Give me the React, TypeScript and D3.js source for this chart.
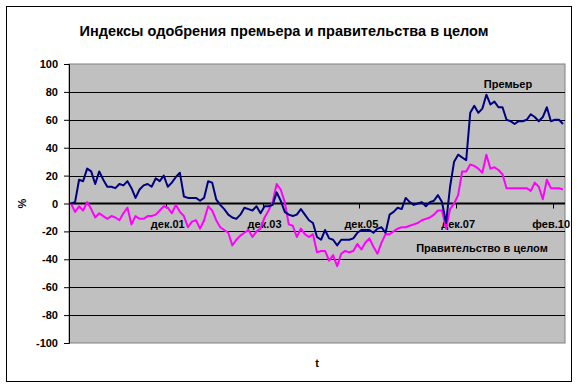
import React, { useEffect, useRef } from "react";
import * as d3 from "d3";

// monthly values, dec.99 .. feb.10
const premier = [
  0, 1, 17, 16, 25, 23, 14, 23, 17, 12,
  12, 11, 14, 13, 16, 11, 4, 10, 13, 14,
  12, 18, 16, 20, 12, 15, 19, 22, 5, 4,
  4, 4, 2, 4, 16, 15, 3, -1, -4, -8,
  -10, -11, -8, -3, -4, -5, -2, -7, -2, -2,
  -1, 8, 2, -6, -8, -9, -8, -4, -8, -12,
  -14, -24, -26, -19, -25, -26, -30, -26, -26, -26,
  -25, -21, -19, -19, -19, -21, -18, -17, -21, -8,
  -6, -3, -4, 4, 1, -1, 0, 1, -2, 1,
  2, 6, 1, -14, 12, 30, 35, 33, 31, 65,
  70, 65, 68, 78, 71, 73, 69, 69, 60, 59,
  57, 59, 59, 60, 64, 62, 59, 62, 69, 59,
  60, 60, 57,
];

const government = [
  0, -6, -2, -5, 1, -4, -10, -7, -9, -11,
  -9, -10, -12, -7, -3, -15, -9, -11, -11, -9,
  -9, -8, -5, -2, -3, -7, -1, -6, -9, -17,
  -13, -12, -18, -12, -2, -5, -12, -17, -19, -21,
  -30, -26, -23, -21, -19, -24, -20, -18, -10, -5,
  1, 14, 10, 1, -15, -16, -24, -18, -22, -24,
  -22, -35, -34, -34, -41, -37, -45, -36, -34, -35,
  -34, -29, -33, -28, -25, -31, -36, -28, -22, -22,
  -20, -18, -17, -17, -16, -15, -14, -12, -11, -10,
  -8, -5, -5, -18, -4, 0, 6, 23, 23, 28,
  27, 25, 22, 35, 25, 26, 24, 21, 11, 11,
  11, 11, 11, 11, 9, 15, 12, 3, 17, 11,
  11, 11, 10,
];

const tickIndex = [24, 48, 72, 96, 120];
const tickLabels = ["дек.01", "дек.03", "дек.05", "дек.07", "фев.10"];
const yTicks = [-100, -80, -60, -40, -20, 0, 20, 40, 60, 80, 100];

const App = () => {
  const ref = useRef<SVGSVGElement>(null);

  useEffect(() => {
    document.body.style.margin = "0";
    const width = 579;
    const height = 388;
    const plot = { left: 69, right: 565, top: 64, bottom: 343 };
    const font = "Arial, 'Liberation Sans', sans-serif";

    const svg = d3.select(ref.current).attr("width", width).attr("height", height);
    svg.selectAll("*").remove();

    // chart frame
    svg.append("rect")
      .attr("x", 6.5).attr("y", 6.5)
      .attr("width", 565).attr("height", 375)
      .attr("fill", "#fff").attr("stroke", "#000").attr("stroke-width", 1);

    const xScale = d3.scaleBand<number>()
      .domain(d3.range(premier.length))
      .range([plot.left, plot.right]);
    const xPos = (i: number) => (xScale(i) as number) + xScale.bandwidth() / 2;

    const yScale = d3.scaleLinear().domain([-100, 100]).range([plot.bottom, plot.top]);

    // plot area
    svg.append("rect")
      .attr("x", plot.left).attr("y", plot.top)
      .attr("width", plot.right - plot.left).attr("height", plot.bottom - plot.top)
      .attr("fill", "#c0c0c0").attr("stroke", "#808080");

    // gridlines
    svg.append("g").selectAll("line")
      .data(yTicks.filter(d => d !== -100 && d !== 100 && d !== 0))
      .enter().append("line")
      .attr("x1", plot.left).attr("x2", plot.right)
      .attr("y1", d => Math.round(yScale(d)) + 0.5).attr("y2", d => Math.round(yScale(d)) + 0.5)
      .attr("stroke", "#000").attr("stroke-width", 1);

    // y axis
    const yAxis = svg.append("g")
      .attr("transform", `translate(${plot.left},0)`)
      .call(d3.axisLeft(yScale).tickValues(yTicks).tickSize(5).tickPadding(6).tickFormat(d => String(d)));
    yAxis.select(".domain").attr("stroke", "#000");
    yAxis.selectAll("text")
      .attr("font-family", font).attr("font-size", 11).attr("font-weight", "bold").attr("fill", "#000");

    // x axis on zero line
    const y0 = yScale(0);
    svg.append("line")
      .attr("x1", plot.left).attr("x2", plot.right)
      .attr("y1", y0).attr("y2", y0)
      .attr("stroke", "#000").attr("stroke-width", 2);

    svg.append("g").selectAll("line")
      .data(tickIndex)
      .enter().append("line")
      .attr("x1", d => Math.round(xScale(d) as number) + 0.5)
      .attr("x2", d => Math.round(xScale(d) as number) + 0.5)
      .attr("y1", y0).attr("y2", y0 + 5)
      .attr("stroke", "#000");

    svg.append("g").selectAll("text")
      .data(tickIndex)
      .enter().append("text")
      .attr("x", (d, i) => i === tickIndex.length - 1 ? 570 : xPos(d))
      .attr("y", y0 + 24)
      .attr("text-anchor", (d, i) => i === tickIndex.length - 1 ? "end" : "middle")
      .attr("font-family", font).attr("font-size", 11).attr("font-weight", "bold")
      .text((d, i) => tickLabels[i]);

    // series
    const line = d3.line<number>()
      .x((d, i) => xPos(i))
      .y(d => yScale(d));

    svg.append("path")
      .datum(government)
      .attr("d", line)
      .attr("fill", "none").attr("stroke", "#ff00ff").attr("stroke-width", 2)
      .attr("stroke-linejoin", "round");

    svg.append("path")
      .datum(premier)
      .attr("d", line)
      .attr("fill", "none").attr("stroke", "#000080").attr("stroke-width", 2)
      .attr("stroke-linejoin", "round");

    // labels
    svg.append("text")
      .attr("x", 284).attr("y", 36)
      .attr("text-anchor", "middle")
      .attr("font-family", font).attr("font-size", 14.5).attr("font-weight", "bold")
      .text("Индексы одобрения премьера и правительства в целом");

    svg.append("text")
      .attr("x", 508).attr("y", 88)
      .attr("text-anchor", "middle")
      .attr("font-family", font).attr("font-size", 11).attr("font-weight", "bold")
      .text("Премьер");

    svg.append("text")
      .attr("x", 482).attr("y", 252)
      .attr("text-anchor", "middle")
      .attr("font-family", font).attr("font-size", 11).attr("font-weight", "bold")
      .text("Правительство в целом");

    svg.append("text")
      .attr("transform", `translate(26,${y0}) rotate(-90)`)
      .attr("text-anchor", "middle")
      .attr("font-family", font).attr("font-size", 11).attr("font-weight", "bold")
      .text("%");

    svg.append("text")
      .attr("x", 317).attr("y", 367)
      .attr("text-anchor", "middle")
      .attr("font-family", font).attr("font-size", 11).attr("font-weight", "bold")
      .text("t");
  }, []);

  return (
    <div>
      <svg ref={ref} style={{ display: "block" }}></svg>
    </div>
  );
};

export default App;
